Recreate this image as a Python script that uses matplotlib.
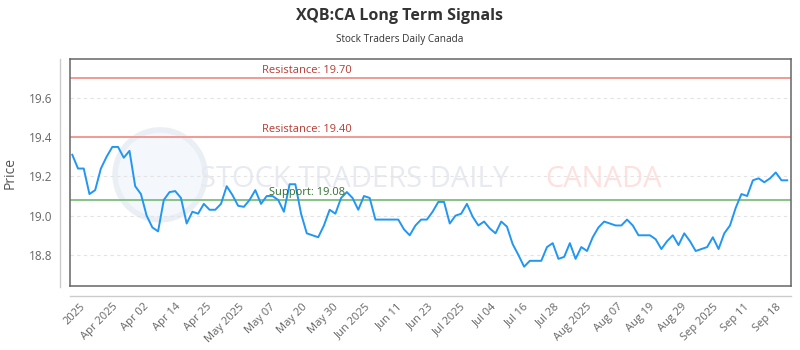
import matplotlib.pyplot as plt
import matplotlib.patches as mpatches
from matplotlib.lines import Line2D
import numpy as np

plt.rcParams['font.family'] = ['Open Sans', 'DejaVu Sans']

# closing prices, one per trading day
prices = [19.31, 19.24, 19.24, 19.11, 19.13, 19.24, 19.30, 19.35, 19.35, 19.295,
          19.33, 19.15, 19.11, 19.00, 18.94, 18.92, 19.08, 19.12, 19.125, 19.09,
          18.96, 19.02, 19.01, 19.06, 19.03, 19.03, 19.06, 19.15, 19.105, 19.05,
          19.045, 19.08, 19.13, 19.06, 19.10, 19.10, 19.08, 19.02, 19.16, 19.16,
          19.01, 18.91, 18.90, 18.89, 18.95, 19.03, 19.01, 19.09, 19.12, 19.09,
          19.03, 19.10, 19.09, 18.98, 18.98, 18.98, 18.98, 18.98, 18.93, 18.90,
          18.95, 18.98, 18.98, 19.02, 19.07, 19.07, 18.96, 19.00, 19.01, 19.06,
          18.995, 18.95, 18.97, 18.935, 18.91, 18.97, 18.944, 18.855, 18.80, 18.74,
          18.77, 18.77, 18.77, 18.84, 18.86, 18.78, 18.79, 18.86, 18.78, 18.84,
          18.82, 18.89, 18.94, 18.97, 18.96, 18.95, 18.95, 18.98, 18.95, 18.90,
          18.90, 18.90, 18.88, 18.83, 18.87, 18.90, 18.85, 18.91, 18.87, 18.82,
          18.83, 18.84, 18.89, 18.83, 18.91, 18.95, 19.04, 19.11, 19.10, 19.18,
          19.19, 19.17, 19.19, 19.22, 19.18, 19.18]

tick_labels = ['2025', 'Apr 2025', 'Apr 02', 'Apr 14', 'Apr 25', 'May 2025', 'May 07',
               'May 20', 'May 30', 'Jun 2025', 'Jun 11', 'Jun 23', 'Jul 2025', 'Jul 04',
               'Jul 16', 'Jul 28', 'Aug 2025', 'Aug 07', 'Aug 19', 'Aug 29', 'Sep 2025',
               'Sep 11', 'Sep 18']

resistance_levels = [19.70, 19.40]
support_level = 19.08

x = np.arange(len(prices))

fig = plt.figure(figsize=(8, 3.5), dpi=100)
ax = fig.add_axes([0.0875, 0.183, 0.9015, 0.648])

ax.set_xlim(-0.4, len(prices) - 1 + 0.7)
ax.set_ylim(18.642, 19.797)

# watermark
logo = mpatches.Ellipse((0.125, 0.49), 0.125, 0.396, transform=ax.transAxes,
                        facecolor='#f4f7fb', edgecolor='#eaeff6', lw=4, zorder=0)
ax.add_patch(logo)
ax.text(0.18, 0.47, 'STOCK TRADERS DAILY', transform=ax.transAxes, fontsize=21,
        color='#e7eaf0', ha='left', va='center', zorder=0)
ax.text(0.659, 0.47, 'CANADA', transform=ax.transAxes, fontsize=21,
        color='#fde1df', ha='left', va='center', zorder=0)

for lvl in resistance_levels:
    ax.axhline(lvl, color='#f19a95', lw=1.4, zorder=2)
    ax.text(41, lvl + 0.012, f'Resistance: {lvl:.2f}', ha='center', va='bottom',
            fontsize=8, color='#b83a32', zorder=4)
ax.axhline(support_level, color='#86c386', lw=1.4, zorder=2)
ax.text(41, support_level + 0.012, f'Support: {support_level:.2f}', ha='center', va='bottom',
        fontsize=8, color='#2e6e2e', zorder=4)

ax.plot(x, prices, color='#2196f3', lw=1.4, zorder=3)

ax.set_yticks([18.8, 19.0, 19.2, 19.4, 19.6])
ax.set_yticklabels(['18.8', '19.0', '19.2', '19.4', '19.6'])
ax.grid(axis='y', color='#e3e3e3', linestyle=(0, (3, 3)), lw=0.8)
ax.set_axisbelow(True)

ax.set_xticks(np.linspace(1.4, 123.0, len(tick_labels)))
ax.set_xticklabels(tick_labels, rotation=45, ha='right', rotation_mode='anchor')
ax.tick_params(axis='x', length=0, pad=11, labelsize=8, labelcolor='#666666')
ax.tick_params(axis='y', length=0, pad=13, labelsize=8.5, labelcolor='#666666')

for s in ax.spines.values():
    s.set_color('#666666')
    s.set_linewidth(1.1)

ax.set_ylabel('Price', fontsize=10, color='#555555', labelpad=8)

# outer axis lines
fig.add_artist(Line2D([0.075, 0.075], [0.180, 0.832], transform=fig.transFigure,
                      color='#cccccc', lw=1))
fig.add_artist(Line2D([0.0875, 0.989], [0.154, 0.154], transform=fig.transFigure,
                      color='#cccccc', lw=1))

fig.text(0.5, 0.955, 'XQB:CA Long Term Signals', ha='center', va='center',
         fontsize=11.5, fontweight='bold', color='#333333')
fig.text(0.5, 0.887, 'Stock Traders Daily Canada', ha='center', va='center',
         fontsize=7.2, color='#333333')

fig.savefig('out.png', dpi=100)
